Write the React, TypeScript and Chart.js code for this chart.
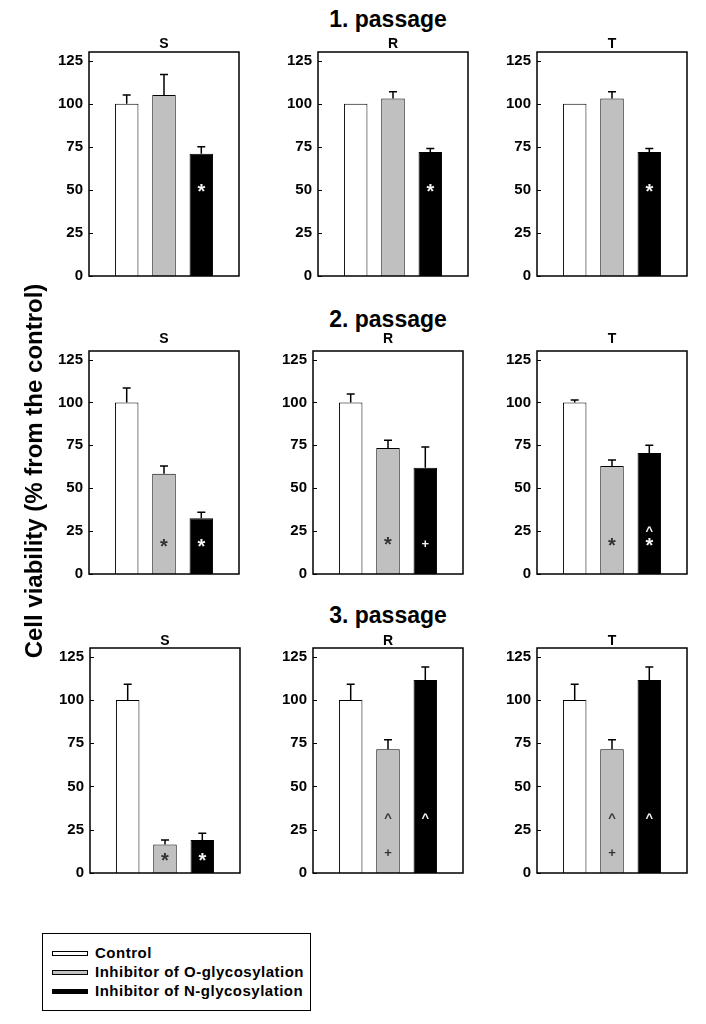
import React, { useEffect, useRef } from 'react';
import { Chart, registerables } from 'chart.js';

Chart.register(...registerables);

// ---------- data ----------
const passageTitles = ['1. passage', '2. passage', '3. passage'];
const cellLines = ['S', 'R', 'T'];
const seriesNames = ['Control', 'Inhibitor of O-glycosylation', 'Inhibitor of N-glycosylation'];
const yTicks = [0, 25, 50, 75, 100, 125];

// panel order: passage 1 (S, R, T), passage 2 (S, R, T), passage 3 (S, R, T)
const controlValues = [100, 100, 100, 100, 100, 100, 100, 100, 100];
const oGlyValues = [105, 103, 103, 58.5, 73.5, 63, 16.5, 71.5, 71.5];
const nGlyValues = [71, 72, 72, 32.5, 62, 70.5, 19, 111.5, 111.5];
const controlErrors = [5, 0, 0, 8.5, 5, 1.5, 9, 9, 9];
const oGlyErrors = [12, 4, 4, 4.5, 4.5, 3.5, 2.5, 5.5, 5.5];
const nGlyErrors = [4, 2, 2, 3.5, 12, 4.5, 4, 7.5, 7.5];

// significance marks: [panel, series, symbol, value-level]
const significanceMarks: [number, number, string, number][] = [
  [0, 2, '*', 51], [1, 2, '*', 51], [2, 2, '*', 51],
  [3, 1, '*', 18], [3, 2, '*', 18],
  [4, 1, '*', 19], [4, 2, '+', 17.5],
  [5, 1, '*', 18.5], [5, 2, '^', 26], [5, 2, '*', 18.5],
  [6, 1, '*', 9], [6, 2, '*', 9],
  [7, 1, '^', 33], [7, 1, '+', 12], [7, 2, '^', 33],
  [8, 1, '^', 33], [8, 1, '+', 12], [8, 2, '^', 33],
];

const seriesValues = [controlValues, oGlyValues, nGlyValues];
const seriesErrors = [controlErrors, oGlyErrors, nGlyErrors];

// ---------- style / layout ----------
const FONT = '"Liberation Sans", Arial, Helvetica, sans-serif';
const fills = ['#ffffff', '#c0c0c0', '#000000'];
const markColors = ['#000000', '#333333', '#f4f4f4'];
const rowTop = [52, 351, 648];
const rowBottom = [276, 574, 873];
const colLeft = [
  [89, 318, 537],
  [89, 313, 537],
  [90, 313, 537],
];
const panelWidth = 150;
const subtitleGap = [4.5, 8, 3.5];
const titleBaseline = [27, 327, 623];
const titleCenterX = 388;

const AXIS_W = 50;
const PAD_TOP = 30;
const PAD_RIGHT = 6;
const PAD_BOTTOM = 20;

function Panel({ index }: { index: number }) {
  const ref = useRef<HTMLCanvasElement | null>(null);
  const row = Math.floor(index / 3);
  const col = index % 3;
  const L = colLeft[row][col];
  const T = rowTop[row];
  const B = rowBottom[row];
  const w = AXIS_W + panelWidth + PAD_RIGHT;
  const h = PAD_TOP + (B - T) + PAD_BOTTOM;

  useEffect(() => {
    if (!ref.current) return;
    const decor = {
      id: 'decor' + index,
      afterDatasetsDraw(chart: any) {
        const ctx = chart.ctx;
        const ys = chart.scales.y;
        ctx.save();
        // error bars (upper)
        for (let s = 0; s < 3; s++) {
          const el = chart.getDatasetMeta(s).data[0];
          const v = seriesValues[s][index];
          const e = seriesErrors[s][index];
          if (e > 0) {
            const yTop = ys.getPixelForValue(v + e);
            ctx.strokeStyle = '#000';
            ctx.lineWidth = 1.5;
            ctx.beginPath();
            ctx.moveTo(el.x, el.y);
            ctx.lineTo(el.x, yTop);
            ctx.moveTo(el.x - 4, yTop);
            ctx.lineTo(el.x + 4, yTop);
            ctx.stroke();
          }
        }
        // significance marks
        for (const m of significanceMarks) {
          if (m[0] !== index) continue;
          const el = chart.getDatasetMeta(m[1]).data[0];
          const sym = m[2];
          const size = sym === '*' ? 20 : 13;
          ctx.font = `bold ${size}px ${FONT}`;
          ctx.textAlign = 'center';
          ctx.textBaseline = 'alphabetic';
          const mt = ctx.measureText(sym);
          const yc = ys.getPixelForValue(m[3]);
          const yb = yc + (mt.actualBoundingBoxAscent - mt.actualBoundingBoxDescent) / 2;
          ctx.fillStyle = markColors[m[1]];
          ctx.fillText(sym, el.x, yb);
        }
        ctx.restore();
      },
      afterDraw(chart: any) {
        const ctx = chart.ctx;
        const a = chart.chartArea;
        const ys = chart.scales.y;
        ctx.save();
        ctx.strokeStyle = '#000';
        ctx.lineWidth = 1.5;
        ctx.strokeRect(a.left, a.top, a.right - a.left, a.bottom - a.top);
        ctx.lineWidth = 1;
        ctx.beginPath();
        for (const t of yTicks) {
          const y = Math.round(ys.getPixelForValue(t)) + 0.5;
          ctx.moveTo(a.left, y);
          ctx.lineTo(a.left + 4, y);
        }
        ctx.stroke();
        ctx.fillStyle = '#000';
        ctx.font = `bold 14px ${FONT}`;
        ctx.textAlign = 'center';
        ctx.textBaseline = 'alphabetic';
        ctx.fillText(cellLines[col], (a.left + a.right) / 2, a.top - subtitleGap[row]);
        ctx.restore();
      },
    };

    const chart = new Chart(ref.current, {
      type: 'bar',
      data: {
        labels: [cellLines[col]],
        datasets: seriesNames.map((name, s) => ({
          label: name,
          data: [seriesValues[s][index]],
          backgroundColor: fills[s],
          borderColor: '#000000',
          borderWidth: 1,
          borderSkipped: 'start',
          categoryPercentage: 0.746,
          barPercentage: 0.63,
        })),
      },
      options: {
        responsive: false,
        animation: false,
        events: [],
        layout: { padding: { top: PAD_TOP, right: PAD_RIGHT, bottom: PAD_BOTTOM, left: 0 } },
        plugins: {
          legend: { display: false },
          tooltip: { enabled: false },
          title: { display: false },
        },
        scales: {
          x: { display: false },
          y: {
            min: 0,
            max: 130,
            afterBuildTicks: (s: any) => {
              s.ticks = yTicks.map((v) => ({ value: v }));
            },
            afterFit: (s: any) => {
              s.width = AXIS_W;
            },
            grid: { display: false, drawTicks: false },
            border: { display: false },
            ticks: {
              font: { family: FONT, size: 15, weight: 'bold' },
              color: '#000',
              padding: 6,
            },
          },
        },
      } as any,
      plugins: [decor],
    });
    return () => chart.destroy();
  }, [index]);

  return (
    <canvas
      ref={ref}
      width={w}
      height={h}
      style={{ position: 'absolute', left: L - AXIS_W, top: T - PAD_TOP, width: w, height: h }}
    />
  );
}

export default function App() {
  const legendBaselines = [957.3, 976.5, 995.5];
  return (
    <div
      style={{
        position: 'absolute',
        left: 0,
        top: 0,
        width: 706,
        height: 1024,
        background: '#ffffff',
        fontFamily: FONT,
        color: '#000',
        overflow: 'hidden',
      }}
    >
      {passageTitles.map((t, r) => (
        <div
          key={t}
          style={{
            position: 'absolute',
            left: titleCenterX - 150,
            width: 300,
            top: titleBaseline[r] - 0.8465 * 23,
            fontSize: 23,
            lineHeight: '23px',
            fontWeight: 'bold',
            textAlign: 'center',
            whiteSpace: 'nowrap',
          }}
        >
          {t}
        </div>
      ))}
      {Array.from({ length: 9 }, (_, i) => (
        <Panel key={i} index={i} />
      ))}
      <div
        style={{
          position: 'absolute',
          left: 34 - 220,
          top: 471 - 12,
          width: 440,
          height: 24,
          fontSize: 24,
          lineHeight: '24px',
          fontWeight: 'bold',
          textAlign: 'center',
          whiteSpace: 'nowrap',
          transform: 'rotate(-90deg)',
        }}
      >
        Cell viability (% from the control)
      </div>
      <div
        style={{
          position: 'absolute',
          left: 42,
          top: 933,
          width: 269,
          height: 78,
          border: '1px solid #000',
          boxSizing: 'border-box',
        }}
      />
      {seriesNames.map((n, s) => (
        <React.Fragment key={n}>
          <div
            style={{
              position: 'absolute',
              left: 52,
              top: legendBaselines[s] - 6.5,
              width: 36,
              height: 5,
              background: fills[s],
              border: '1px solid #000',
              boxSizing: 'border-box',
            }}
          />
          <div
            style={{
              position: 'absolute',
              left: 95,
              top: legendBaselines[s] - 0.8465 * 15,
              fontSize: 15,
              lineHeight: '15px',
              fontWeight: 'bold',
              letterSpacing: 0.5,
              whiteSpace: 'nowrap',
            }}
          >
            {n}
          </div>
        </React.Fragment>
      ))}
    </div>
  );
}
